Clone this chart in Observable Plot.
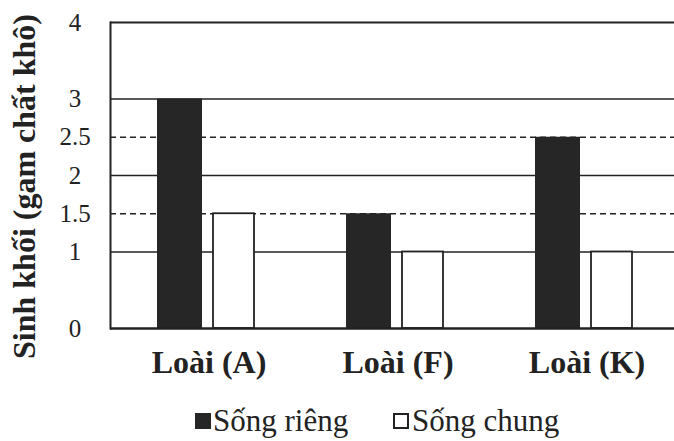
<!DOCTYPE html>
<html>
<head>
<meta charset="utf-8">
<script src="https://cdn.jsdelivr.net/npm/d3@7"></script>
<script src="https://cdn.jsdelivr.net/npm/@observablehq/plot@0.6"></script>
<style>
  body { margin: 0; background: #fff; width: 674px; height: 441px; overflow: hidden; position: relative; font-family: "Liberation Serif", "Times New Roman", serif; }
  #chart svg { display: block; overflow: visible; }
  .lg-text { position: absolute; font-size: 31px; line-height: 31px; color: #222; white-space: nowrap; }
  .lg-sw { position: absolute; width: 16px; height: 16px; box-sizing: border-box; }
</style>
</head>
<body>
<div id="chart"></div>
<div id="legend"></div>
<script>
const categories = ["Loài (A)", "Loài (F)", "Loài (K)"];
const series = ["Sống riêng", "Sống chung"];
const songRieng = [3, 1.5, 2.5];
const songChung = [1.5, 1, 1];
const yTicks = [0, 1, 1.5, 2, 2.5, 3, 4];
const solidGrid = [1, 2, 3];
const dashedGrid = [1.5, 2.5];
const yTitle = "Sinh khối (gam chất khô)";

const riengData = categories.map((c, i) => ({cat: c, value: songRieng[i]}));
const chungData = categories.map((c, i) => ({cat: c, value: songChung[i]}));

const plot = Plot.plot({
  width: 674,
  height: 395,
  marginLeft: 110,
  marginRight: -5,
  marginTop: 22,
  marginBottom: 67,
  style: {fontFamily: "'Liberation Serif', 'Times New Roman', serif", color: "#222", background: "transparent"},
  x: {domain: categories, padding: 0},
  y: {domain: [0, 4]},
  marks: [
    Plot.ruleY(solidGrid, {stroke: "#222", strokeWidth: 1.6}),
    Plot.ruleY(dashedGrid, {stroke: "#222", strokeWidth: 1.3, strokeDasharray: "6,4"}),
    Plot.ruleY([4], {stroke: "#222", strokeWidth: 2}),
    Plot.barY(riengData, {x: "cat", y: "value", fill: "#262626", insetLeft: 46, insetRight: 98}),
    Plot.barY(chungData, {x: "cat", y: "value", fill: "#fff", stroke: "#222", strokeWidth: 1.8, insetLeft: 102, insetRight: 46}),
    Plot.ruleY([0], {stroke: "#222", strokeWidth: 2.5}),
    Plot.frame({anchor: "left", stroke: "#222", strokeWidth: 2}),
    Plot.axisY({ticks: yTicks, tickSize: 0, tickPadding: 35.5, textAnchor: "middle", fontSize: 25, tickFormat: d => String(d), label: null}),
    Plot.axisX({tickSize: 0, tickPadding: 22, fontSize: 32, fontWeight: "bold", label: null, dx: 3}),
    Plot.text([yTitle], {frameAnchor: "left", textAnchor: "middle", dx: -86, dy: 11, rotate: -90, fontSize: 32, fontWeight: "bold", fill: "#222"})
  ]
});
document.getElementById("chart").appendChild(plot);

const legend = document.getElementById("legend");
const swX = [195, 393];
const txtX = [213, 412];
series.forEach((s, i) => {
  const sw = document.createElement("div");
  sw.className = "lg-sw";
  sw.style.left = swX[i] + "px";
  sw.style.top = "413px";
  if (i === 0) sw.style.background = "#262626";
  else { sw.style.background = "#fff"; sw.style.border = "2px solid #222"; }
  const t = document.createElement("div");
  t.className = "lg-text";
  t.style.left = txtX[i] + "px";
  t.style.top = "405px";
  t.textContent = s;
  legend.appendChild(sw);
  legend.appendChild(t);
});
</script>
</body>
</html>
